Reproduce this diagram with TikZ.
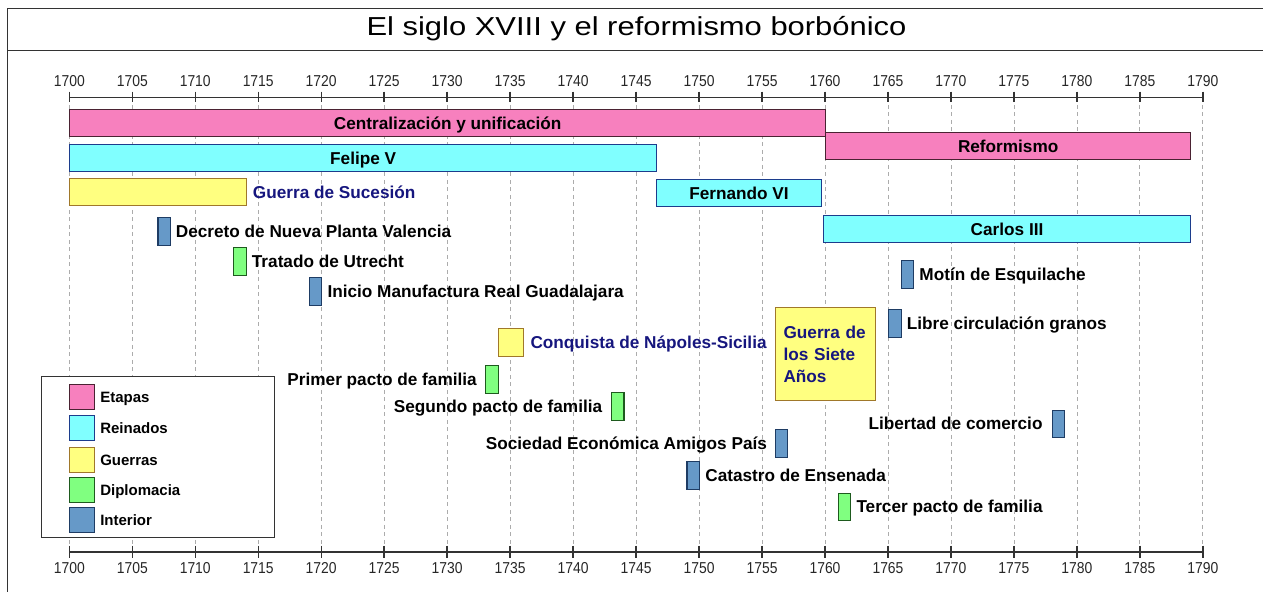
\documentclass[tikz,border=0pt]{standalone}
\usepackage{fontspec}
\setmainfont{Liberation Sans}
\newfontfamily\titfont[FakeStretch=1.19]{Liberation Sans}
\newfontfamily\numfont[FakeStretch=0.88]{Liberation Sans}
\usetikzlibrary{positioning}

\definecolor{cEtapa}{HTML}{F780BE}
\definecolor{cEtapaB}{HTML}{4A2232}
\definecolor{cReino}{HTML}{80FFFF}
\definecolor{cReinoB}{HTML}{1C3C8C}
\definecolor{cGuerra}{HTML}{FFFF80}
\definecolor{cGuerraB}{HTML}{A0782A}
\definecolor{cDiplo}{HTML}{80FF80}
\definecolor{cDiploB}{HTML}{1E5A1E}
\definecolor{cInt}{HTML}{6699C8}
\definecolor{cIntB}{HTML}{1E3C64}
\definecolor{cNavy}{HTML}{16167E}
\definecolor{cAsse}{HTML}{333333}

% anno -> x
\newcommand{\xanno}[1]{(69.3+12.595*(#1-1700))}
\newcommand{\wanno}{12.595pt}
\newcommand{\lblfont}{\fontsize{17.2}{20}\selectfont\bfseries}

\begin{document}
\begin{tikzpicture}[x=1pt, y=-1pt,
    barra/.style={draw, line width=1.1pt, inner sep=0pt, anchor=north west, minimum height=27pt, font=\lblfont, text height=12.3pt, text depth=0pt},
    etapa/.style={barra, fill=cEtapa, draw=cEtapaB},
    reinado/.style={barra, fill=cReino, draw=cReinoB},
    guerrabar/.style={barra, fill=cGuerra, draw=cGuerraB},
    evento/.style={barra, minimum width=\wanno, minimum height=27.5pt},
    diplo/.style={evento, fill=cDiplo, draw=cDiploB},
    interno/.style={evento, fill=cInt, draw=cIntB},
    lbl/.style={font=\lblfont, inner sep=0pt, text height=12.3pt, text depth=0pt},
    lblg/.style={lbl, text=cNavy},
    leylbl/.style={font=\fontsize{15}{18}\selectfont\bfseries, inner sep=0pt, text height=10.8pt, text depth=0pt},
    tacca/.style={font=\numfont\fontsize{15.8}{18}\selectfont, text=black!85, inner sep=0pt, anchor=base},
    griglia/.style={gray!65, line width=0.8pt, dash pattern=on 4pt off 3.5pt},
    asse/.style={cAsse, line width=1.4pt}
  ]
  \useasboundingbox (0,0) rectangle (1263,592);

  % Titolo
  \draw[cAsse, line width=1.2pt] (1263,8.3) -- (7.3,8.3) -- (7.3,592);
  \draw[cAsse, line width=1.2pt] (7.3,50.7) -- (1263,50.7);
  \node[font=\titfont\fontsize{26}{30}\selectfont, inner sep=0pt, anchor=base] (titolo) at (636.5,35.7) {El siglo XVIII y el reformismo borbónico};

  % Griglia e assi con tacche
  \foreach \a in {1700,1705,...,1790} {
    \draw[griglia] ({\xanno{\a}},97.3) -- ({\xanno{\a}},552);
    \draw[asse] ({\xanno{\a}},91.7) -- ({\xanno{\a}},101.5);
    \draw[asse] ({\xanno{\a}},545.7) -- ({\xanno{\a}},558);
    \node[tacca] (su\a) at ({\xanno{\a}},86) {\a};
    \node[tacca] (giu\a) at ({\xanno{\a}},573.5) {\a};
  }
  \draw[asse] ({\xanno{1700}},97.3) -- ({\xanno{1790}},97.3);
  \draw[asse] ({\xanno{1700}},552) -- ({\xanno{1790}},552);

  % Etapas
  \node[etapa, minimum width={60*\wanno}] (centr) at ({\xanno{1700}},109) {Centralización y unificación};
  \node[etapa, minimum width={29*\wanno}] (refor) at ({\xanno{1760}},132) {Reformismo};

  % Reinados
  \node[reinado, minimum width={46.58*\wanno}] (felipe) at ({\xanno{1700}},144) {Felipe V};
  \node[reinado, minimum width={13.1*\wanno}] (fernando) at ({\xanno{1746.58}},179) {Fernando VI};
  \node[reinado, minimum width={29.14*\wanno}] (carlos) at ({\xanno{1759.84}},215) {Carlos III};

  % Guerras
  \node[guerrabar, minimum width={14*\wanno}] (sucesion) at ({\xanno{1700}},178) {};
  \node[lblg, right=6pt of sucesion] (sucesionT) {Guerra de Sucesión};
  \node[guerrabar, minimum width={2*\wanno}, minimum height=28pt] (napoles) at ({\xanno{1734}},328) {};
  \node[lblg, right=6.5pt of napoles] (napolesT) {Conquista de Nápoles-Sicilia};
  \node[guerrabar, minimum width={8*\wanno}, minimum height=93.3pt] (siete) at ({\xanno{1756}},306.7) {};
  \node[font=\fontsize{17.2}{22}\selectfont\bfseries, text=cNavy, text width=84pt, align=left, inner sep=0pt] (sieteT) at ([yshift=-0.7pt]siete.center) {Guerra de\\los Siete\\Años};

  % Diplomacia e interior
  \node[interno] (decreto) at ({\xanno{1707}},217) {};
  \node[lbl, right=4.5pt of decreto] (decretoT) {Decreto de Nueva Planta Valencia};
  \node[diplo] (utrecht) at ({\xanno{1713}},247) {};
  \node[lbl, right=5pt of utrecht] (utrechtT) {Tratado de Utrecht};
  \node[interno] (guadal) at ({\xanno{1719}},277) {};
  \node[lbl, right=5pt of guadal] (guadalT) {Inicio Manufactura Real Guadalajara};
  \node[diplo] (pacto1) at ({\xanno{1733}},365) {};
  \node[lbl, left=8pt of pacto1] (pacto1T) {Primer pacto de familia};
  \node[diplo] (pacto2) at ({\xanno{1743}},392) {};
  \node[lbl, left=8.5pt of pacto2] (pacto2T) {Segundo pacto de familia};
  \node[interno] (sociedad) at ({\xanno{1756}},429) {};
  \node[lbl, left=7.5pt of sociedad] (sociedadT) {Sociedad Económica Amigos País};
  \node[interno] (catastro) at ({\xanno{1749}},461) {};
  \node[lbl, right=5pt of catastro] (catastroT) {Catastro de Ensenada};
  \node[diplo] (pacto3) at ({\xanno{1761}},492.5) {};
  \node[lbl, right=5pt of pacto3] (pacto3T) {Tercer pacto de familia};
  \node[interno] (motin) at ({\xanno{1766}},260) {};
  \node[lbl, right=5pt of motin] (motinT) {Motín de Esquilache};
  \node[interno] (granos) at ({\xanno{1765}},309) {};
  \node[lbl, right=5pt of granos] (granosT) {Libre circulación granos};
  \node[interno] (comercio) at ({\xanno{1778}},409.5) {};
  \node[lbl, left=9pt of comercio] (comercioT) {Libertad de comercio};

  % Legenda
  \node[draw=cAsse, fill=white, line width=1.2pt, minimum width=233.3pt, minimum height=161pt, inner sep=0pt, anchor=north west] (legenda) at (40.7,375.7) {};
  \foreach \s/\t/\yy in {etapa/Etapas/384, reinado/Reinados/415, guerrabar/Guerras/447, diplo/Diplomacia/477, interno/Interior/507} {
    \node[\s, minimum width=25pt, minimum height=25pt] (ley\s) at (69,\yy) {};
    \node[leylbl, right=5pt of ley\s] (ley\s T) {\t};
  }
\end{tikzpicture}
\end{document}
